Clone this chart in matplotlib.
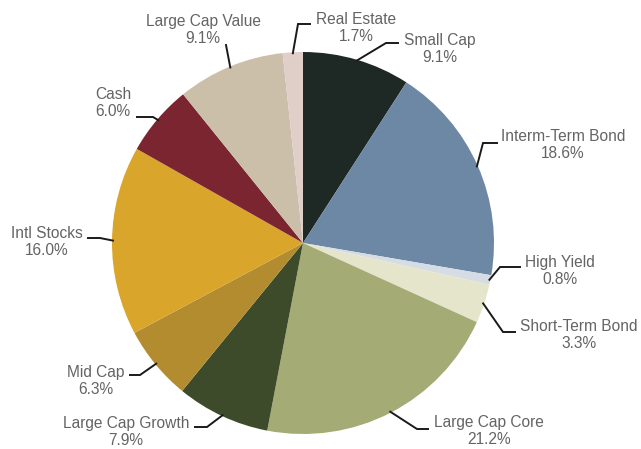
import matplotlib
matplotlib.use("Agg")
import matplotlib.pyplot as plt
import numpy as np

# ---- data ----
categories = ["Small Cap", "Interm-Term Bond", "High Yield", "Short-Term Bond",
              "Large Cap Core", "Large Cap Growth", "Mid Cap", "Intl Stocks",
              "Cash", "Large Cap Value", "Real Estate"]
values = [9.1, 18.6, 0.8, 3.3, 21.2, 7.9, 6.3, 16.0, 6.0, 9.1, 1.7]
colors = ["#1e2925", "#6d88a5", "#d6dce4", "#e4e5ca", "#a5ab75", "#3d4b2b",
          "#b38c30", "#d9a52a", "#7b2531", "#cbbfaa", "#e0cec9"]

# ---- layout (image pixel coords, y downward) ----
W, H = 641, 449
CX, CY, R = 303, 243, 191
# text centre, elbow point, end point of leader line
layout = {
    "Small Cap":        ((440, 49),  (386, 43),  (398, 43)),
    "Interm-Term Bond": ((563, 145), (483, 143), (497, 143)),
    "High Yield":       ((560, 271), (500, 267), (520, 267)),
    "Short-Term Bond":  ((579, 335), (503, 332), (515, 332)),
    "Large Cap Core":   ((489, 431), (417, 429), (428, 429)),
    "Large Cap Growth": ((126, 432), (207, 427), (195, 427)),
    "Mid Cap":          ((96, 381),  (140, 375), (130, 375)),
    "Intl Stocks":      ((47, 242),  (100, 238), (88, 238)),
    "Cash":             ((113, 103), (153, 117), (137, 117)),
    "Large Cap Value":  ((203, 30),  (226, 45),  (226, 45)),
    "Real Estate":      ((356, 28),  (298, 24),  (310, 24)),
}

def fy(y):
    return H - y

fig = plt.figure(figsize=(W / 100, H / 100), dpi=100)
ax = fig.add_axes([0, 0, 1, 1])

wedges, _ = ax.pie(values, colors=colors, startangle=90, counterclock=False,
                   center=(CX, fy(CY)), radius=R,
                   wedgeprops=dict(linewidth=0), frame=True)
ax.set_xlim(0, W)
ax.set_ylim(0, H)
ax.set_aspect("equal")
ax.axis("off")

for w, cat, v in zip(wedges, categories, values):
    ang = np.deg2rad((w.theta1 + w.theta2) / 2)
    ex = CX + (R - 1) * np.cos(ang)
    ey = fy(CY) + (R - 1) * np.sin(ang)
    (tx, ty), (bx, by), (qx, qy) = layout[cat]
    ax.plot([ex, bx, qx], [ey, fy(by), fy(qy)], color="#1a1a1a", lw=1.4,
            solid_joinstyle="miter", zorder=3)
    ax.text(tx, fy(ty), f"{cat}\n{v:.1f}%", ha="center", va="center",
            multialignment="center", fontsize=11.2, color="#646464",
            family="Liberation Sans", linespacing=1.22)

fig.savefig("out.png", dpi=100)
